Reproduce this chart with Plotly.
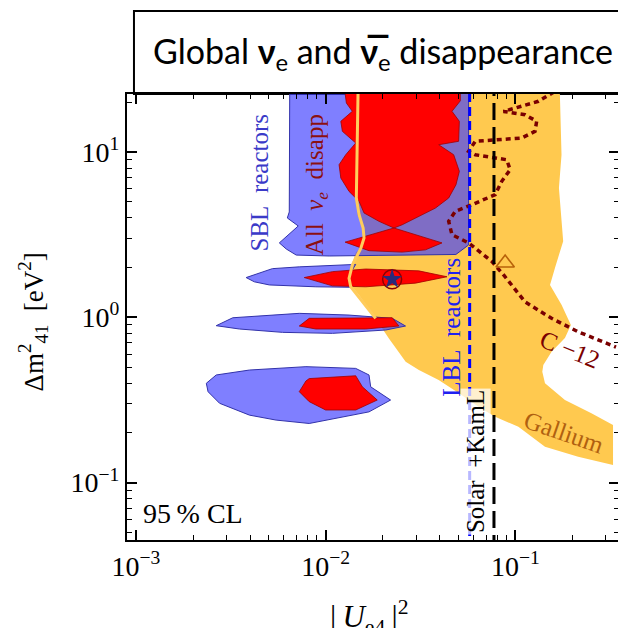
import plotly.graph_objects as go

# ---------------- data ----------------
# Gallium allowed region (|U_e4|^2, dm41^2 [eV^2])
gallium_U = [0.015, 0.1716, 0.1716, 0.175, 0.1696, 0.1765, 0.1786, 0.1616, 0.1539, 0.1522,
             0.175, 0.1961, 0.1824, 0.1551, 0.1403, 0.1386, 0.1432, 0.1824, 0.2515, 0.327,
             0.327, 0.2142, 0.1432, 0.1037, 0.0782, 0.064, 0.0502, 0.0394, 0.031, 0.0264,
             0.0215, 0.0183, 0.015, 0.01356, 0.01328, 0.01382, 0.01446, 0.01531, 0.01593,
             0.01561, 0.01469, 0.01451, 0.01469]
gallium_dm = [30, 30, 22.1, 9.63, 6.06, 3.47, 2.89, 1.99, 1.66, 1.57,
              1.19, 0.898, 0.750, 0.619, 0.514, 0.469, 0.399, 0.316, 0.263, 0.223,
              0.1278, 0.1434, 0.165, 0.218, 0.250, 0.288, 0.348, 0.418, 0.480, 0.539,
              0.746, 0.986, 1.36, 1.57, 1.89, 2.17, 2.48, 2.63, 3.02,
              3.61, 4.16, 5.27, 8.0]

# Gallium boundary line (solid orange)
galline_U = [0.01487, 0.01469, 0.01451, 0.015, 0.01576, 0.01593, 0.01531, 0.01382, 0.01328,
             0.01356, 0.01561, 0.01834]
galline_dm = [30, 9.63, 5.27, 4.18, 3.47, 3.02, 2.61, 2.07, 1.72,
              1.53, 1.24, 0.986]

# SBL reactors 95% CL (blue)
sbl_top_U = [0.00647, 0.00643, 0.00643, 0.00628, 0.00717, 0.0057, 0.0062, 0.0070,
             0.01043, 0.01909, 0.03494, 0.04856, 0.05667, 0.05667]
sbl_top_dm = [30, 10.3, 4.34, 3.99, 3.57, 2.82, 2.59, 2.38,
              2.35, 2.37, 2.38, 2.40, 2.74, 30]
sbl_i1_U = [0.00381, 0.00524, 0.00726, 0.01086, 0.0144, 0.01361, 0.01328, 0.01356, 0.00888, 0.00505, 0.00421]
sbl_i1_dm = [1.74, 1.97, 2.02, 2.06, 2.09, 1.88, 1.68, 1.52, 1.53, 1.57, 1.64]
sbl_i2_U = [0.00265, 0.00324, 0.00726, 0.01328, 0.02243, 0.02636, 0.0207, 0.01086, 0.00593, 0.00351]
sbl_i2_dm = [0.890, 0.994, 1.057, 1.032, 0.986, 0.886, 0.838, 0.800, 0.811, 0.850]
sbl_i3_U = [0.00235, 0.00265, 0.00397, 0.00787, 0.0144, 0.01692, 0.01727, 0.02199, 0.01692,
            0.01382, 0.00819, 0.00548, 0.00397, 0.00276, 0.0024]
sbl_i3_dm = [0.399, 0.448, 0.480, 0.503, 0.491, 0.448, 0.380, 0.316, 0.268,
             0.256, 0.228, 0.239, 0.256, 0.302, 0.355]

# All nu_e disappearance 95% CL (red)
all_top_U = [0.01225, 0.01286, 0.01382, 0.01202, 0.01225, 0.0144, 0.01276, 0.01177, 0.01202,
             0.01328, 0.015, 0.01593, 0.01909, 0.02289, 0.01266, 0.01382, 0.01692, 0.0253,
             0.03357, 0.04104, 0.02289, 0.0253, 0.03096, 0.03789, 0.0445, 0.04861, 0.05064,
             0.04727, 0.03943, 0.05022, 0.05064, 0.04631, 0.05125, 0.05125]
all_top_dm = [30, 19.79, 17.63, 15.34, 13.34, 11.34, 9.63, 8.38, 6.96,
              5.78, 5.03, 4.28, 3.81, 3.47, 2.85, 2.75, 2.53, 2.48,
              2.56, 2.82, 3.47, 3.63, 4.08, 4.58, 5.27, 6.34, 7.64,
              9.63, 11.07, 11.61, 15.34, 17.63, 20.4, 30]
all_i1_U = [0.00771, 0.01086, 0.01626, 0.03096, 0.0436, 0.02975, 0.01626, 0.01086]
all_i1_dm = [1.74, 1.89, 1.96, 1.91, 1.76, 1.61, 1.53, 1.55]
all_i2_U = [0.00726, 0.00819, 0.02243, 0.02431, 0.01626, 0.00888]
all_i2_dm = [0.886, 0.986, 0.994, 0.886, 0.850, 0.850]
all_i3_U = [0.00787, 0.00819, 0.0144, 0.01561, 0.0187, 0.0144, 0.01, 0.00819, 0.00726]
all_i3_dm = [0.412, 0.426, 0.443, 0.380, 0.316, 0.275, 0.275, 0.309, 0.355]

# C-12 bound (dotted)
c12_U = [0.160, 0.1321, 0.0865, 0.1124, 0.1294, 0.1269, 0.1079, 0.06146, 0.05667, 0.06146,
         0.09002, 0.09381, 0.08475, 0.07823, 0.05898, 0.04826, 0.0445, 0.04631, 0.05667,
         0.07509, 0.0865, 0.09564, 0.1124, 0.1551, 0.2142, 0.339]
c12_dm = [23.1, 20.27, 17.6, 16.82, 15.34, 13.34, 12.15, 11.61, 10.10, 9.63,
          8.98, 7.82, 6.65, 5.52, 4.80, 4.38, 3.81, 3.16, 2.82,
          2.18, 1.81, 1.57, 1.24, 0.986, 0.818, 0.661]

# vertical bounds
lbl_U = 0.0574
solar_U = 0.0771
dm_span = [0.01, 100]

# best-fit points
bestfit_U = [0.0224]
bestfit_dm = [1.70]
triangle_U = [0.0883]
triangle_dm = [2.13]

xtick_vals = [1e-3, 1e-2, 1e-1]
xtick_text = ["10<sup>\u22123</sup>", "10<sup>\u22122</sup>", "10<sup>\u22121</sup>"]
ytick_vals = [1e-1, 1e0, 1e1]
ytick_text = ["10<sup>\u22121</sup>", "10<sup>0</sup>", "10<sup>1</sup>"]

# ---------------- figure ----------------
BLUE_FILL = "rgba(64,64,255,0.67)"
BLUE_LINE = "rgba(50,50,170,1)"
RED_FILL = "#FF0000"
RED_LINE = "#A00000"
GAL_FILL = "#FFC94F"

fig = go.Figure()


def poly(xs, ys, fill, lc, lw):
    fig.add_trace(go.Scatter(x=xs + [xs[0]], y=ys + [ys[0]], mode="lines", fill="toself",
                             fillcolor=fill, line=dict(color=lc, width=lw),
                             hoverinfo="skip", showlegend=False))


poly(gallium_U, gallium_dm, GAL_FILL, "rgba(0,0,0,0)", 0)
poly(sbl_top_U, sbl_top_dm, BLUE_FILL, BLUE_LINE, 1)
poly(sbl_i1_U, sbl_i1_dm, BLUE_FILL, BLUE_LINE, 1)
poly(sbl_i2_U, sbl_i2_dm, BLUE_FILL, BLUE_LINE, 1)
poly(sbl_i3_U, sbl_i3_dm, BLUE_FILL, BLUE_LINE, 1)
poly(all_top_U, all_top_dm, RED_FILL, RED_LINE, 0.8)
poly(all_i1_U, all_i1_dm, RED_FILL, RED_LINE, 0.8)
poly(all_i2_U, all_i2_dm, RED_FILL, RED_LINE, 0.8)
poly(all_i3_U, all_i3_dm, RED_FILL, RED_LINE, 0.8)

fig.add_trace(go.Scatter(x=galline_U, y=galline_dm, mode="lines",
                         line=dict(color="#FFCC5C", width=3), hoverinfo="skip", showlegend=False))
fig.add_trace(go.Scatter(x=c12_U, y=c12_dm, mode="lines",
                         line=dict(color="#7A0000", width=3.5, dash="5px,4px"),
                         hoverinfo="skip", showlegend=False))
fig.add_trace(go.Scatter(x=[lbl_U, lbl_U], y=dm_span, mode="lines",
                         line=dict(color="#0000FF", width=3, dash="9px,5px"),
                         hoverinfo="skip", showlegend=False))
fig.add_trace(go.Scatter(x=[solar_U, solar_U], y=dm_span, mode="lines",
                         line=dict(color="#000000", width=3, dash="17px,7px"),
                         hoverinfo="skip", showlegend=False))
fig.add_trace(go.Scatter(x=bestfit_U, y=bestfit_dm, mode="markers",
                         marker=dict(symbol="circle-open", size=19, color="#8B0000",
                                     line=dict(width=1.5, color="#8B0000")),
                         hoverinfo="skip", showlegend=False))
fig.add_trace(go.Scatter(x=bestfit_U, y=bestfit_dm, mode="markers",
                         marker=dict(symbol="star", size=15, color="#2A2A7A", line=dict(width=0)),
                         hoverinfo="skip", showlegend=False))
fig.add_trace(go.Scatter(x=triangle_U, y=triangle_dm, mode="markers",
                         marker=dict(symbol="triangle-up-open", size=16, color="#B8620A",
                                     line=dict(width=1.6, color="#B8620A")),
                         hoverinfo="skip", showlegend=False))

SERIF = "Liberation Serif"
OX, OY = 8, 8          # page body margin of the exported html
W, H = 626 - OX, 628 - OY
L, R, T, B = 127 - OX, 5, 94 - OY, 88
PW, PH = W - L - R, H - T - B
NB = "\u00a0"


def px(xp):
    return (xp - OX - L) / PW


def py(yp):
    return (H - B - (yp - OY)) / PH


def label(text, xp, yp, color, size, angle=0, **kw):
    fig.add_annotation(text=text, x=px(xp), y=py(yp), xref="paper", yref="paper",
                       showarrow=False, textangle=angle, xanchor="center", yanchor="middle",
                       font=dict(family=kw.pop("family", SERIF), size=size, color=color), **kw)


label("SBL" + NB * 2 + "reactors", 260, 183, "#3A3AC8", 25, -90)
label("All" + NB * 2 + "<i>\u03bd<sub>e</sub></i>" + NB * 2 + "disapp", 317, 185, "#8B1010", 25, -90)
label("LBL" + NB * 2 + "reactors", 452, 327, "#2020F0", 25, -90)
label("Solar" + NB * 2 + "+KamL", 476.5, 462, "#000000", 25, -90, bgcolor="rgba(255,255,255,0.72)")
label("C" + NB + "\u221212", 572, 349, "#7A0000", 25, 22)
label("Gallium", 566, 432, "#B06010", 25, 19)
label("95\u2009%" + NB + "CL", 193, 513, "#000000", 28)
label("\u0394m<sup>2</sup><sub>41</sub>" + NB * 2 + "[eV<sup>2</sup>]", 33, 322, "#000000", 27, -90)
label("|\u2009<i>U</i><sub>e4</sub>\u2009|<sup>2</sup>", 370, 617, "#000000", 31)
label("Global <b>\u03bd</b><sub>e</sub> and <b>\u03bd\u0305</b><sub>e</sub> disappearance",
      384, 53, "#000000", 34, family="Lato")

fig.add_shape(type="rect", xref="paper", yref="paper", x0=px(134), x1=px(660), y0=py(94), y1=py(11),
              line=dict(color="black", width=2), fillcolor="white", layer="below")

minor_vals = [k * 10 ** e for e in range(-4, 2) for k in range(2, 10)]

axis_common = dict(type="log", showgrid=False, zeroline=False, showline=True, linecolor="black",
                   linewidth=2, mirror="allticks", ticks="inside", ticklen=10, tickwidth=1.5,
                   tickcolor="black", tickmode="array",
                   tickfont=dict(family=SERIF, size=28, color="black"),
                   minor=dict(ticks="inside", ticklen=5, tickwidth=1.2, tickcolor="black",
                              tickmode="array", tickvals=minor_vals, showgrid=False))

fig.update_xaxes(range=[-3.047, -0.454], tickvals=xtick_vals, ticktext=xtick_text, **axis_common)
fig.update_yaxes(range=[-1.347, 1.351], tickvals=ytick_vals, ticktext=ytick_text, **axis_common)

fig.update_layout(width=W, height=H, margin=dict(l=L, r=R, t=T, b=B, pad=0),
                  plot_bgcolor="white", paper_bgcolor="white", showlegend=False)

fig.write_html("out.html")
